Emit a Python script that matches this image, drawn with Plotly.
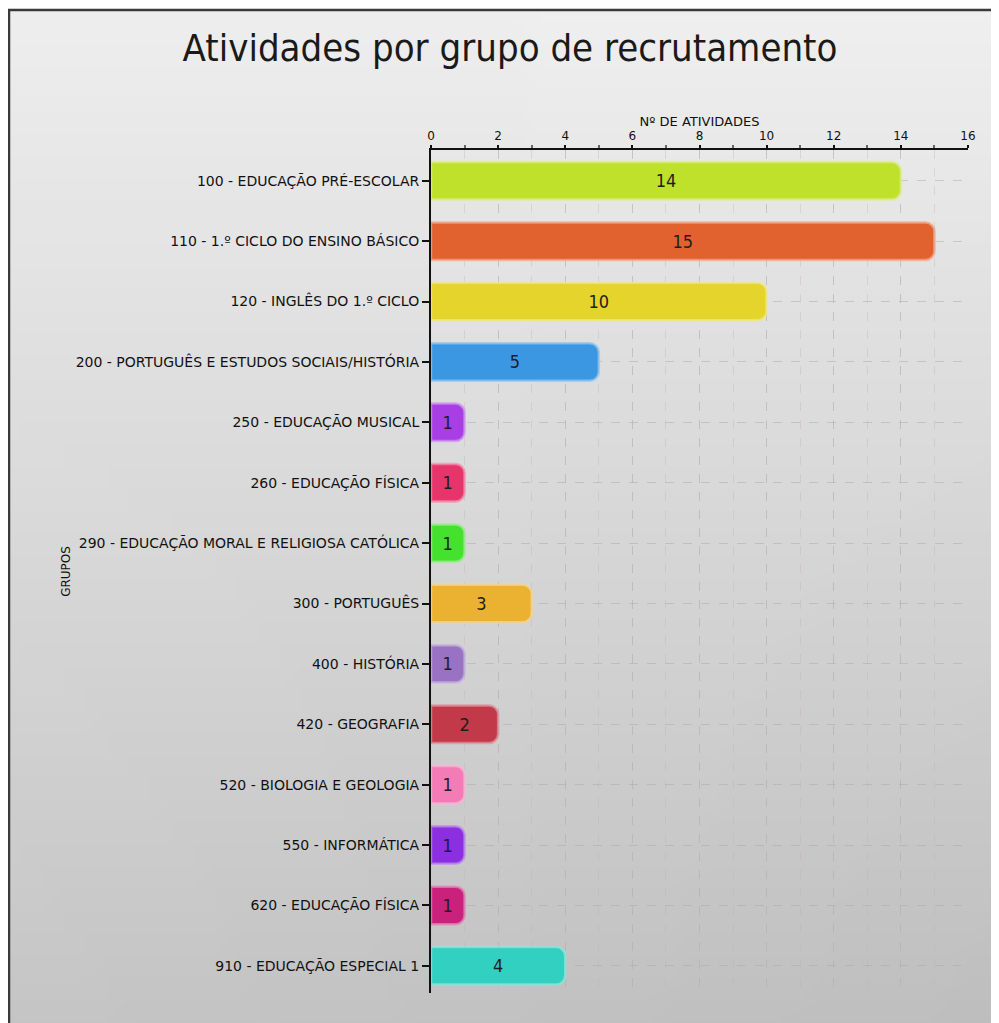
import base64
import struct
import zlib
import plotly.graph_objects as go

# ---------------- data ----------------
categories = [
    "100 - EDUCAÇÃO PRÉ-ESCOLAR",
    "110 - 1.º CICLO DO ENSINO BÁSICO",
    "120 - INGLÊS DO 1.º CICLO",
    "200 - PORTUGUÊS E ESTUDOS SOCIAIS/HISTÓRIA",
    "250 - EDUCAÇÃO MUSICAL",
    "260 - EDUCAÇÃO FÍSICA",
    "290 - EDUCAÇÃO MORAL E RELIGIOSA CATÓLICA",
    "300 - PORTUGUÊS",
    "400 - HISTÓRIA",
    "420 - GEOGRAFIA",
    "520 - BIOLOGIA E GEOLOGIA",
    "550 - INFORMÁTICA",
    "620 - EDUCAÇÃO FÍSICA",
    "910 - EDUCAÇÃO ESPECIAL 1",
]
values = [14, 15, 10, 5, 1, 1, 1, 3, 1, 2, 1, 1, 1, 4]
bar_colors = [
    "#bfe12c", "#e2622f", "#e4d42b", "#3b97e2", "#a83fe4", "#e6356b", "#46e12f",
    "#ebb231", "#9a72c4", "#c23a4a", "#f47cb6", "#8b2fe0", "#c9217c", "#31d0c1",
]
x_ticks = [0, 2, 4, 6, 8, 10, 12, 14, 16]
title_text = "Atividades por grupo de recrutamento"
x_title = "Nº DE ATIVIDADES"
y_title = "GRUPOS"

OFF = 8            # page body margin
W, H = 999 - OFF, 1023 - OFF


def px_x(p):
    return (p - OFF) / W


def px_y(p):
    return 1 - (p - OFF) / H


def lighten(hex_color, f=0.45):
    h = hex_color.lstrip("#")
    r, g, b = (int(h[i:i + 2], 16) for i in (0, 2, 4))
    r = int(r + (255 - r) * f)
    g = int(g + (255 - g) * f)
    b = int(b + (255 - b) * f)
    return f"rgba({r},{g},{b},0.75)"


def gradient_png(w=48, h=48):
    rows = b""
    for j in range(h):
        row = b"\x00"
        for i in range(w):
            t = j / (h - 1)
            s = i / (w - 1)
            v = 238 - 42 * t - 8 * s * t + 2 * s * (1 - t)
            v = max(0, min(255, int(v)))
            row += bytes((v, v, v))
        rows += row

    def chunk(tag, data):
        c = struct.pack(">I", len(data)) + tag + data
        return c + struct.pack(">I", zlib.crc32(tag + data) & 0xFFFFFFFF)

    png = b"\x89PNG\r\n\x1a\n"
    png += chunk(b"IHDR", struct.pack(">IIBBBBB", w, h, 8, 2, 0, 0, 0))
    png += chunk(b"IDAT", zlib.compress(rows, 9))
    png += chunk(b"IEND", b"")
    return "data:image/png;base64," + base64.b64encode(png).decode()


label_font = "DejaVu Sans"
cond_font = "DejaVu Sans Condensed, DejaVu Sans, sans-serif"

positions = list(range(len(categories)))

fig = go.Figure()
fig.add_trace(go.Bar(
    x=values,
    y=positions,
    orientation="h",
    marker=dict(
        color=bar_colors,
        line=dict(color=[lighten(c) for c in bar_colors], width=2.5),
        cornerradius=9,
    ),
    text=[str(v) for v in values],
    customdata=categories,
    textposition="inside",
    insidetextanchor="middle",
    textangle=0,
    textfont=dict(family=cond_font, size=18, color="#1e1e1e"),
    cliponaxis=False,
    hovertemplate="%{customdata}: %{x}<extra></extra>",
))

fig.update_layout(
    width=W,
    height=H,
    margin=dict(l=0, r=0, t=0, b=0),
    paper_bgcolor="white",
    plot_bgcolor="rgba(255,255,255,0.07)",
    showlegend=False,
    bargap=0.38,
    title=dict(
        text=title_text,
        x=px_x(510), xanchor="center",
        y=px_y(48), yanchor="middle",
        font=dict(family=cond_font, size=38, color="#1a1a1a"),
    ),
    xaxis=dict(
        domain=[px_x(431), px_x(968)],
        side="top",
        range=[0, 16],
        tickvals=x_ticks,
        ticktext=[str(t) for t in x_ticks],
        ticks="outside",
        ticklen=3,
        tickwidth=1.5,
        tickcolor="#111",
        showline=True,
        linecolor="#111",
        linewidth=1.5,
        tickfont=dict(family=label_font, size=12, color="#111"),
        showgrid=True,
        gridcolor="rgba(175,175,175,0.45)",
        griddash="dash",
        gridwidth=1,
        minor=dict(dtick=1, ticks="outside", ticklen=3, tickcolor="#666",
                   showgrid=True, gridcolor="rgba(200,170,175,0.35)", griddash="dash"),
        zeroline=False,
        automargin=False,
        title=dict(text=x_title, standoff=0,
                   font=dict(family=label_font, size=13, color="#111")),
        fixedrange=True,
    ),
    yaxis=dict(
        domain=[px_y(993), px_y(150)],
        tickvals=positions,
        ticktext=categories,
        range=[13.45, -0.51],
        ticks="outside",
        ticklen=7,
        tickwidth=1.5,
        tickcolor="#111",
        showline=True,
        linecolor="#111",
        linewidth=2,
        tickfont=dict(family=label_font, size=14, color="#111"),
        showgrid=True,
        gridcolor="rgba(170,170,170,0.5)",
        griddash="dash",
        zeroline=False,
        automargin=False,
        title=dict(text=y_title, standoff=2,
                   font=dict(family=label_font, size=12, color="#111")),
        fixedrange=True,
    ),
    images=[dict(
        source=gradient_png(),
        xref="paper", yref="paper",
        x=0, y=px_y(10),
        sizex=1.05, sizey=1.05,
        xanchor="left", yanchor="top",
        sizing="stretch",
        layer="below",
    )],
    shapes=[
        dict(type="rect", xref="paper", yref="paper",
             x0=px_x(9), x1=1.02, y0=-0.02, y1=px_y(10),
             line=dict(color="#3a3a3a", width=2.5), fillcolor="rgba(0,0,0,0)",
             layer="above"),
    ],
)

fig.write_html("out.html")
